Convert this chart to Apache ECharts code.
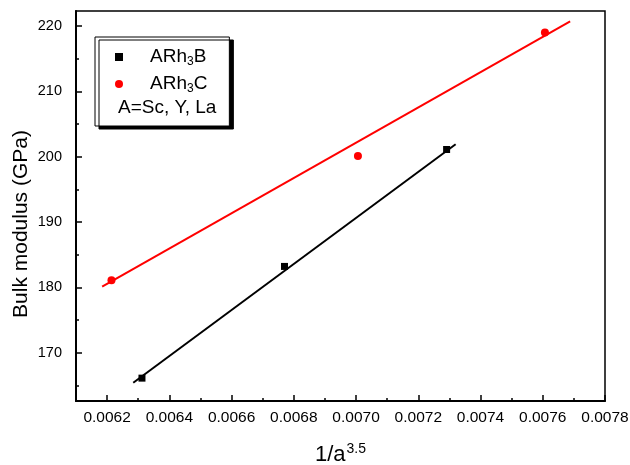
<!DOCTYPE html>
<html>
<head>
<meta charset="utf-8">
<script src="https://cdn.jsdelivr.net/npm/echarts@6/dist/echarts.min.js"></script>
<style>html,body{margin:0;padding:0;background:#fff}#c{width:630px;height:465px}</style>
</head>
<body>
<div id="c"></div>
<script>
// Data
const seriesBName = 'ARh3B';
const seriesCName = 'ARh3C';
const bX = [0.006312, 0.006770, 0.007291];
const bY = [166.1, 183.2, 201.1];
const cX = [0.006214, 0.007006, 0.007607];
const cY = [181.1, 200.1, 219.0];
// fitted lines (endpoints)
const bFitX = [0.006284, 0.007320];
const bFitY = [165.4, 201.9];
const cFitX = [0.006184, 0.007688];
const cFitY = [180.1, 220.7];
const xMajorTicks = [0.0062, 0.0064, 0.0066, 0.0068, 0.0070, 0.0072, 0.0074, 0.0076, 0.0078];
const xMinorTicks = [0.0061, 0.0063, 0.0065, 0.0067, 0.0069, 0.0071, 0.0073, 0.0075, 0.0077];
const yMajorTicks = [170, 180, 190, 200, 210, 220];
const yMinorTicks = [165, 175, 185, 195, 205, 215];
const legendNote = 'A=Sc, Y, La';

const zip = (xs, ys) => xs.map((x, i) => [x, ys[i]]);
const FONT = 'Liberation Sans, Arial, sans-serif';
const XMIN = 0.0061, XMAX = 0.0078, YMIN = 162.6, YMAX = 222.3;

const chart = echarts.init(document.getElementById('c'), null, {renderer: 'canvas'});
const baseX = {type: 'value', min: XMIN, max: XMAX, splitLine: {show: false}};
const baseY = {type: 'value', min: YMIN, max: YMAX, splitLine: {show: false}};
chart.setOption({
  animation: false,
  backgroundColor: '#fff',
  grid: {left: 76, right: 25, top: 11, bottom: 64, outerBoundsMode: 'none', containLabel: false,
    show: true, borderColor: '#000', borderWidth: 1.5, backgroundColor: 'transparent'},
  xAxis: [
    Object.assign({}, baseX, {
      position: 'bottom',
      axisLine: {show: true, lineStyle: {color: '#000', width: 2}},
      axisTick: {show: true, inside: true, length: 6, lineStyle: {color: '#000', width: 1.5}, customValues: xMajorTicks},
      axisLabel: {show: true, color: '#000', fontSize: 15.5, fontFamily: FONT, margin: 9, customValues: xMajorTicks,
        formatter: v => v.toFixed(4)},
      name: '{a|1/a}{s|3.5}', nameLocation: 'middle', nameGap: 41,
      nameTextStyle: {rich: {a: {fontSize: 22, fontFamily: FONT, color: '#000', verticalAlign: 'bottom', lineHeight: 24},
        s: {fontSize: 14, fontFamily: FONT, color: '#000', verticalAlign: 'top', lineHeight: 24, padding: [0, 0, 11, 1]}}}
    }),
    Object.assign({}, baseX, {
      position: 'bottom',
      axisLine: {show: false},
      axisTick: {show: true, inside: true, length: 3, lineStyle: {color: '#000', width: 1.5}, customValues: xMinorTicks},
      axisLabel: {show: false}
    })
  ],
  yAxis: [
    Object.assign({}, baseY, {
      position: 'left',
      axisLine: {show: true, lineStyle: {color: '#000', width: 2}},
      axisTick: {show: true, inside: true, length: 6, lineStyle: {color: '#000', width: 1.5}, customValues: yMajorTicks},
      axisLabel: {show: true, color: '#000', fontSize: 14.5, fontFamily: FONT, margin: 14, customValues: yMajorTicks},
      name: 'Bulk modulus (GPa)', nameLocation: 'middle', nameGap: 44, nameRotate: 90, nameMoveOverlap: false,
      nameTextStyle: {fontSize: 21, fontFamily: FONT, color: '#000', padding: [0, 36, 0, 0]}
    }),
    Object.assign({}, baseY, {
      position: 'left',
      axisLine: {show: false},
      axisTick: {show: true, inside: true, length: 3, lineStyle: {color: '#000', width: 1.5}, customValues: yMinorTicks},
      axisLabel: {show: false}
    })
  ],
  legend: {
    orient: 'vertical', left: 95, top: 37, selectedMode: false,
    data: [seriesBName, seriesCName],
    itemWidth: 8, itemHeight: 8, itemGap: 4,
    padding: [8, 22, 31, 20],
    backgroundColor: '#fff', borderColor: '#000', borderWidth: 1,
    shadowColor: '#000', shadowBlur: 0, shadowOffsetX: 4, shadowOffsetY: 3,
    formatter: name => '{sp|}{a|' + name.slice(0, 3) + '}{s|' + name.slice(3, 4) + '}{a|' + name.slice(4) + '}',
    textStyle: {rich: {
      sp: {width: 22, height: 22},
      a: {fontSize: 19, fontFamily: FONT, color: '#000', lineHeight: 22},
      s: {fontSize: 12, fontFamily: FONT, color: '#000', lineHeight: 22, verticalAlign: 'bottom', padding: [11, 0, 0, 0]}
    }}
  },
  graphic: [{
    type: 'text', left: 118, top: 98, z: 100,
    style: {text: legendNote, fontSize: 19, fontFamily: FONT, fill: '#000'}
  }],
  series: [
    {name: seriesBName, type: 'scatter', data: zip(bX, bY), symbol: 'rect', symbolSize: 7,
      itemStyle: {color: '#000', opacity: 1}, z: 5},
    {name: seriesCName, type: 'scatter', data: zip(cX, cY), symbol: 'circle', symbolSize: 8,
      itemStyle: {color: '#ff0000', opacity: 1}, z: 5},
    {name: 'fitB', type: 'line', data: zip(bFitX, bFitY), showSymbol: false, symbol: 'none',
      lineStyle: {color: '#000', width: 2}, z: 4},
    {name: 'fitC', type: 'line', data: zip(cFitX, cFitY), showSymbol: false, symbol: 'none',
      lineStyle: {color: '#ff0000', width: 2}, z: 4}
  ]
});
</script>
</body>
</html>
